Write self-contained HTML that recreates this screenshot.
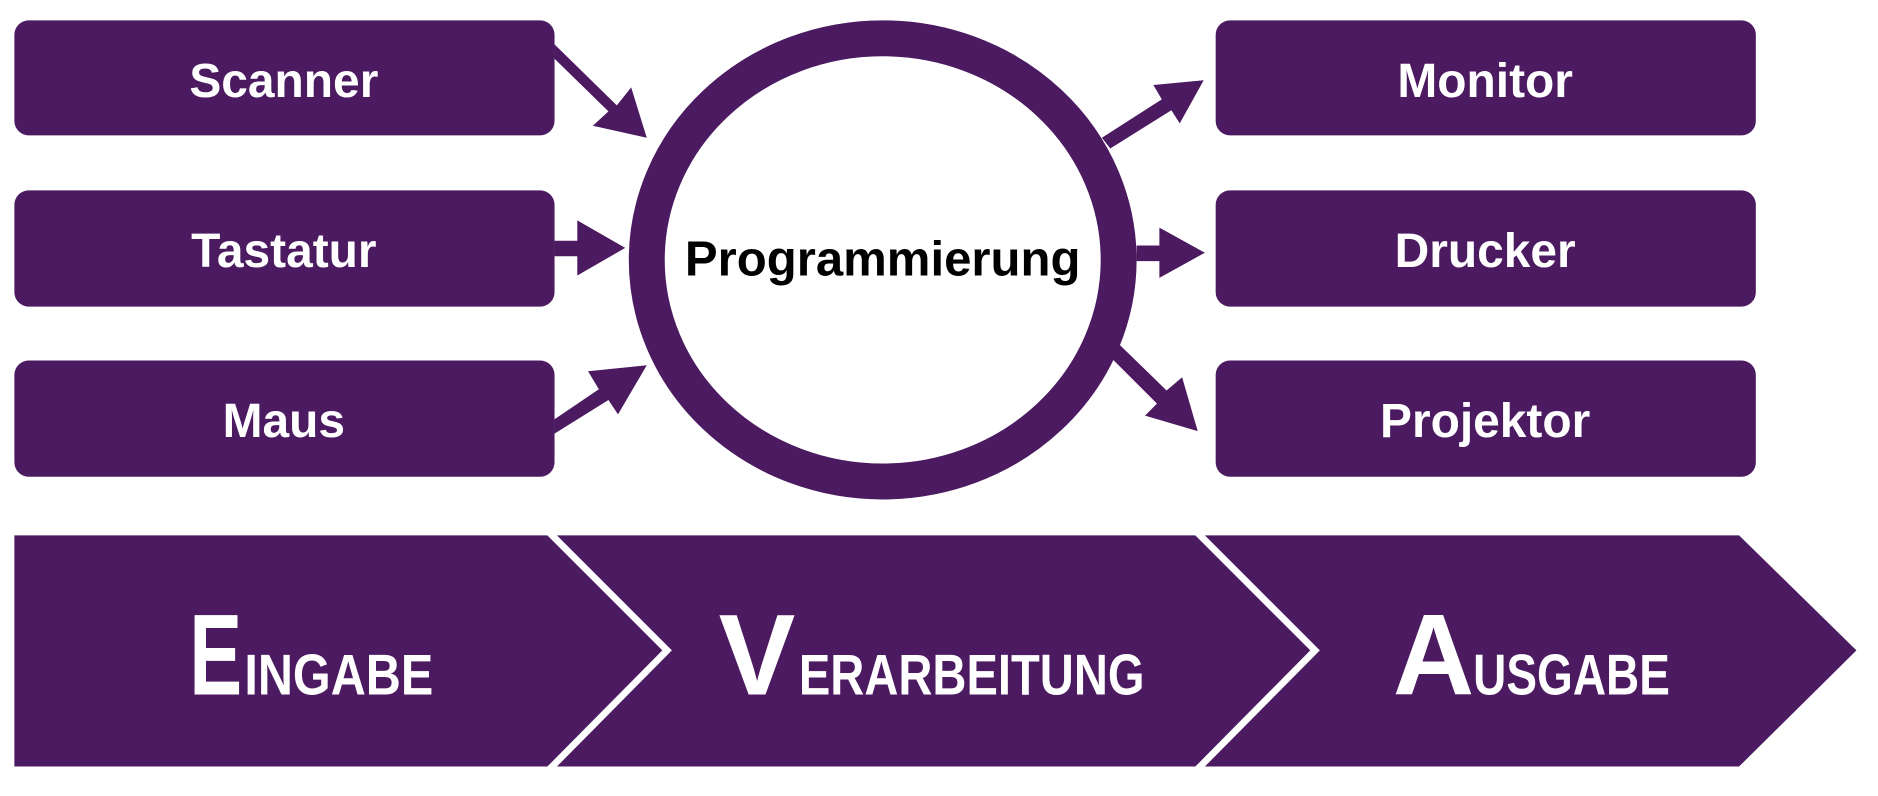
<!DOCTYPE html>
<html><head><meta charset="utf-8"><style>html,body{margin:0;padding:0;background:#fff}svg{display:block}</style></head>
<body>
<svg width="1878" height="796" viewBox="0 0 1568 664.6" preserveAspectRatio="none" xmlns="http://www.w3.org/2000/svg" font-family="Liberation Sans, sans-serif" font-weight="bold">
<g fill="#4b1a60">
<rect x="12" y="17" width="451" height="96" rx="12"/>
<rect x="12" y="159" width="451" height="97" rx="12"/>
<rect x="12" y="301" width="451" height="97" rx="12"/>
<rect x="1015" y="17" width="451" height="96" rx="12"/>
<rect x="1015" y="159" width="451" height="97" rx="12"/>
<rect x="1015" y="301" width="451" height="97" rx="12"/>
<polygon points="463,37 515,88 527,73 540,115 495,105 508,93 463,49"/>
<polygon points="463,201 482,201 482,184 522,207 482,230 482,214 463,214"/>
<polygon points="463,350 500,325 491,310 540,305 516,346 508,334 463,362"/>
<polygon points="920,115 970,83 963,71 1005,67 985,103 978,92 927,124"/>
<polygon points="949,205 968,205 968,190 1006,211 968,232 968,218 949,218"/>
<polygon points="935,288 974,326 987,315 1000,360 956,347 966,337 928,299"/>
<polygon points="12,447 457,447 553,543 457,640 12,640"/>
<polygon points="465,447 998,447 1094,543 998,640 465,640 561,543"/>
<polygon points="1006,447 1452,447 1550,543 1452,640 1006,640 1102,543"/>
</g>
<ellipse cx="737" cy="217" rx="197" ry="185" fill="#fff" stroke="#4b1a60" stroke-width="30"/>
<g fill="#fff" font-size="40" text-anchor="middle">
<text x="237" y="81">Scanner</text>
<text x="237" y="223">Tastatur</text>
<text x="237" y="365">Maus</text>
<text x="1240" y="81">Monitor</text>
<text x="1240" y="223">Drucker</text>
<text x="1240" y="365">Projektor</text>
</g>
<text x="737" y="230" font-size="41" text-anchor="middle" fill="#000">Programmierung</text>
<g fill="#fff">
<text transform="translate(158,580) scale(0.69,1)" font-size="96">E</text>
<text transform="translate(204,580) scale(0.845,1)" font-size="48">INGABE</text>
<text transform="translate(600,580) scale(1,1)" font-size="96">V</text>
<text transform="translate(667,580) scale(0.82,1)" font-size="48">ERARBEITUNG</text>
<text transform="translate(1163,580) scale(0.98,1)" font-size="96">A</text>
<text transform="translate(1230,580) scale(0.8,1)" font-size="48">USGABE</text>
</g>
</svg>
</body></html>
